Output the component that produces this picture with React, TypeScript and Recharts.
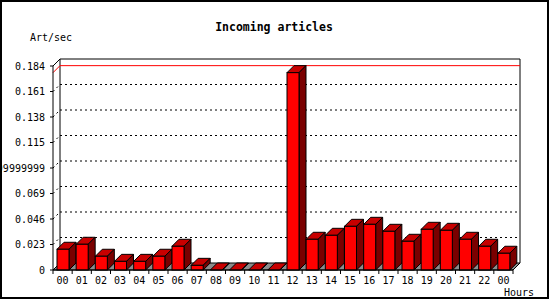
import React from 'react';
import { BarChart, Bar, XAxis, YAxis, ReferenceLine, ReferenceArea } from 'recharts';

const hours = ['00', '01', '02', '03', '04', '05', '06', '07', '08', '09', '10', '11', '12', '13', '14', '15', '16', '17', '18', '19', '20', '21', '22', '00'];
const rates = [0.0187, 0.0232, 0.0124, 0.0078, 0.0078, 0.0124, 0.0214, 0.0042, 0, 0, 0, 0, 0.178, 0.0277, 0.0313, 0.0394, 0.0412, 0.0349, 0.0259, 0.0367, 0.0358, 0.0277, 0.0214, 0.0151];
const yTicks = [0, 0.023, 0.046, 0.069, 0.092, 0.115, 0.138, 0.161, 0.184];
const yTickLabels = ['0', '0.023', '0.046', '0.069', '0.09199999999999999', '0.115', '0.138', '0.161', '0.184'];

const data = rates.map((rate, idx) => ({ idx, rate }));
const maxRate = Math.max(...rates);

const DEPTH = 7;
const FONT = 'DejaVu Sans Mono';

// front face, lit top and shaded side, shifted back by DEPTH
const Bar3D = (props: any) => {
  const { x, y, width, height } = props;
  const d = DEPTH;
  const top = y;
  const bottom = y + height;
  const right = x + width;
  return (
    <g stroke="#000" strokeWidth={1} strokeLinejoin="miter">
      <polygon points={`${x},${top} ${x + d},${top - d} ${right + d},${top - d} ${right},${top}`} fill="#c80000" />
      <polygon points={`${right},${top} ${right + d},${top - d} ${right + d},${bottom - d} ${right},${bottom}`} fill="#7a0000" />
      {height > 0 && <rect x={x} y={top} width={width} height={height} fill="#ff0000" />}
    </g>
  );
};

// floor and back wall of the box
const Wall = (props: any) => {
  const { x, y, width, height } = props;
  const d = DEPTH;
  const b = y + height;
  return (
    <g>
      <polygon
        points={`${x},${b} ${x + width},${b} ${x + width + d},${b - d} ${x + d},${b - d}`}
        fill="#8c8c8c"
        stroke="#000"
      />
      <polyline
        points={`${x},${y} ${x + d},${y - d} ${x + width + d},${y - d} ${x + width + d},${b - d}`}
        fill="none"
        stroke="#000"
      />
      <line x1={x + d} y1={y - d} x2={x + d} y2={b - d} stroke="#000" />
    </g>
  );
};

const GridLine = (props: any) => {
  const { x1, y1, x2 } = props;
  const d = DEPTH;
  return (
    <g stroke="#000" strokeDasharray="2 3" fill="none">
      <line x1={x1} y1={y1} x2={x1 + d} y2={y1 - d} />
      <line x1={x1 + d} y1={y1 - d} x2={x2 + d} y2={y1 - d} />
    </g>
  );
};

const MaxLine = (props: any) => {
  const { x1, y1, x2 } = props;
  const d = DEPTH;
  return (
    <polyline
      points={`${x1},${y1} ${x1 + d},${y1 - d} ${x2 + d},${y1 - d}`}
      fill="none"
      stroke="#ff0000"
    />
  );
};

const HourTick = (props: any) => {
  const { x, y, payload, index } = props;
  const half = payload.offset || 0;
  return (
    <g>
      <line x1={x - half} y1={y} x2={x - half} y2={y + 4} stroke="#000" />
      {index === hours.length - 1 && <line x1={x + half} y1={y} x2={x + half} y2={y + 4} stroke="#000" />}
      <text x={x} y={y + 10} textAnchor="middle" dominantBaseline="central" fontFamily={FONT} fontSize={10} fill="#000">
        {hours[payload.value]}
      </text>
    </g>
  );
};

export default function App() {
  return (
    <div style={{ position: 'absolute', left: 0, top: 0, width: 550, height: 300, background: '#fff' }}>
      <BarChart width={550} height={300} data={data} margin={{ top: 66, right: 37, bottom: 0, left: 0 }}>
        <ReferenceArea y1={0} y2={0.184} shape={<Wall />} ifOverflow="visible" zIndex={-100} />
        {yTicks.slice(1, -1).map((t) => (
          <ReferenceLine key={t} y={t} shape={<GridLine />} ifOverflow="visible" zIndex={-90} />
        ))}
        <ReferenceLine y={maxRate} shape={<MaxLine />} ifOverflow="visible" zIndex={-80} />
        <XAxis
          dataKey="idx"
          type="category"
          height={30}
          interval={0}
          tickLine={false}
          tickSize={0}
          tickMargin={0}
          axisLine={{ stroke: '#000' }}
          tick={<HourTick />}
        />
        <YAxis
          width={53}
          domain={[0, 0.184]}
          ticks={yTicks}
          interval={0}
          tickSize={3}
          tickMargin={5}
          axisLine={{ stroke: '#000' }}
          tickLine={{ stroke: '#000' }}
          tickFormatter={(_v: number, i: number) => yTickLabels[i]}
          tick={{ fill: '#000', fontSize: 10, fontFamily: FONT }}
        />
        <Bar dataKey="rate" barSize={12} shape={<Bar3D />} isAnimationActive={false} />
      </BarChart>
      <svg width={550} height={300} style={{ position: 'absolute', left: 0, top: 0, pointerEvents: 'none' }}>
        <rect x={1} y={1} width={547} height={297} fill="none" stroke="#000" strokeWidth={2} />
        <text x={274} y={27} textAnchor="middle" dominantBaseline="central" fontFamily={FONT} fontWeight="bold" fontSize={11.5} fill="#000">
          Incoming articles
        </text>
        <text x={30} y={37} dominantBaseline="central" fontFamily={FONT} fontSize={10} fill="#000">
          Art/sec
        </text>
        <text x={504} y={292} dominantBaseline="central" fontFamily={FONT} fontSize={10} fill="#000">
          Hours
        </text>
      </svg>
    </div>
  );
}
